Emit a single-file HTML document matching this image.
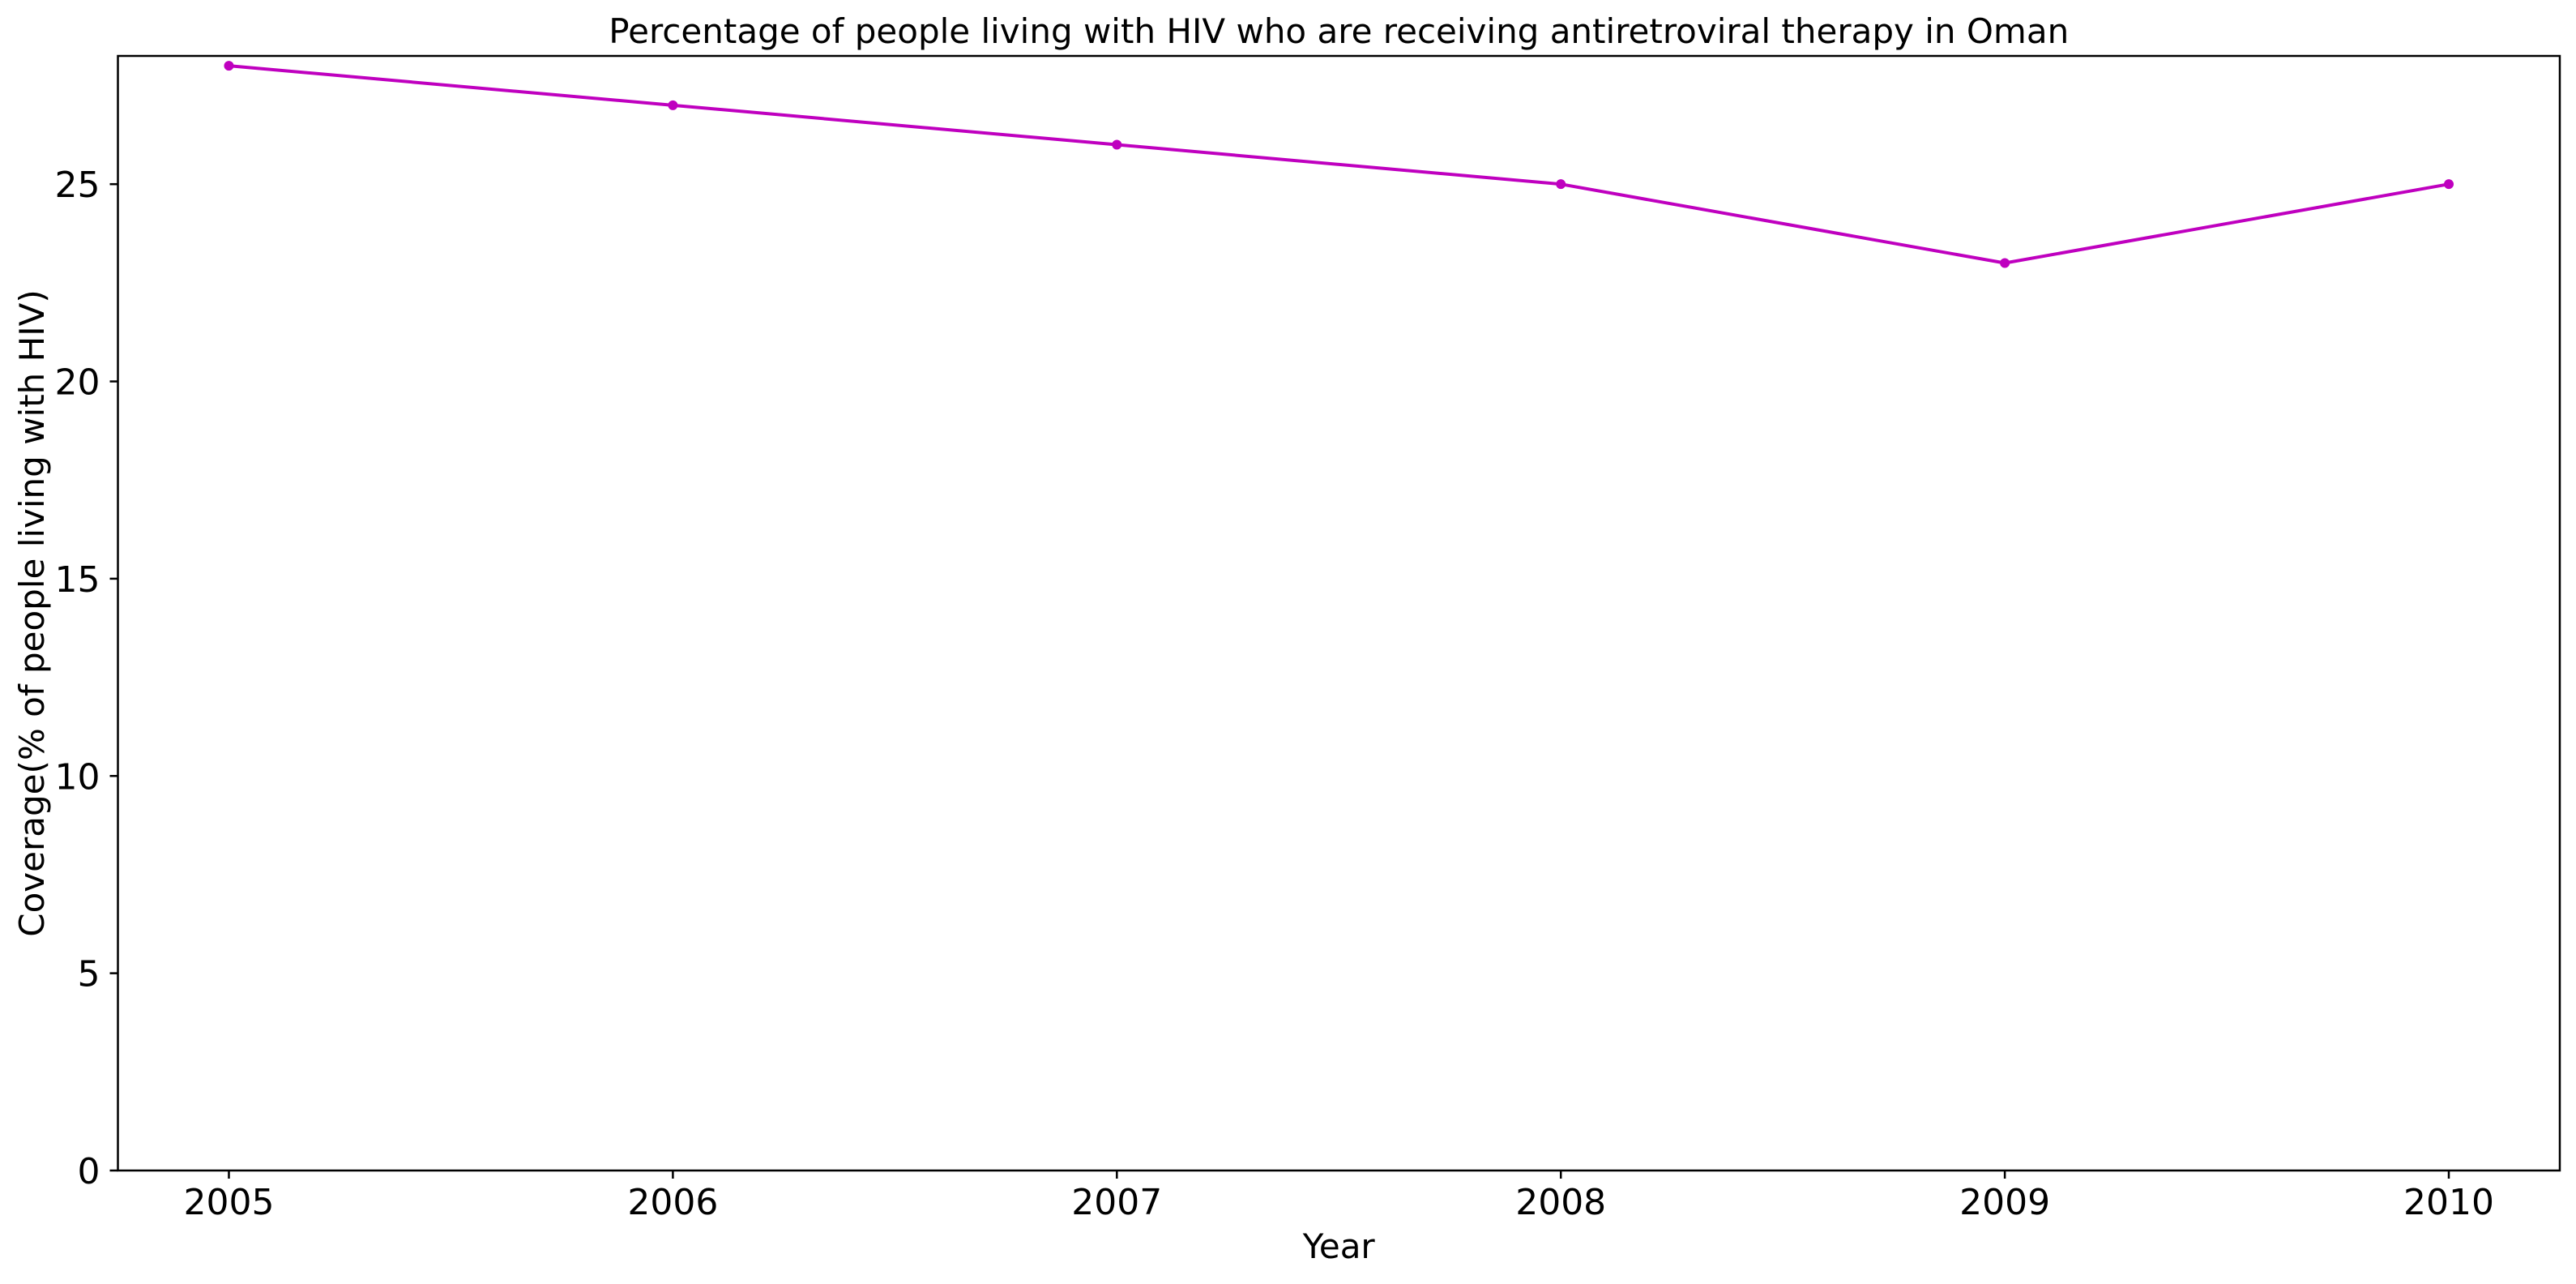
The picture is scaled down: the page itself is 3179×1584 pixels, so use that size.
<!DOCTYPE html>
<html><head><meta charset="utf-8"><style>body{margin:0;background:#fff}svg text{font-family:"DejaVu Sans","Liberation Sans",sans-serif;fill:#000}</style></head>
<body>
<svg id="chart" width="3179" height="1579" xmlns="http://www.w3.org/2000/svg">
<rect width="3179" height="1579" fill="#fff"/>
<g id="plot"></g>
</svg>
<script>
const years = [2005, 2006, 2007, 2008, 2009, 2010];
const coverage = [28, 27, 26, 25, 23, 25];
const yTicks = [0, 5, 10, 15, 20, 25];
const xTicks = [2005, 2006, 2007, 2008, 2009, 2010];

const L=145.5, R=3159, T=69, B=1444;
const xMin=2004.75, xMax=2010.25, yMin=0, yMax=28.25;
const xs=v=>L+(v-xMin)/(xMax-xMin)*(R-L);
const ys=v=>B-(v-yMin)/(yMax-yMin)*(B-T);
const NS='http://www.w3.org/2000/svg';
const g=document.getElementById('plot');
function mk(tag,attrs,text){const e=document.createElementNS(NS,tag);for(const k in attrs)e.setAttribute(k,attrs[k]);if(text!==undefined)e.textContent=text;g.appendChild(e);return e;}

const pts=years.map((y,i)=>xs(y)+','+ys(coverage[i])).join(' ');
const line=mk('polyline',{points:pts,fill:'none',stroke:'#bf00bf','stroke-width':4,'stroke-linejoin':'round'});


years.forEach((y,i)=>{
  const c=mk('circle',{cx:xs(y),cy:ys(coverage[i]),r:6,fill:'#bf00bf'});
  
  
});

const fr=mk('rect',{x:L,y:T,width:R-L,height:B-T,fill:'none',stroke:'#000','stroke-width':2.5});



yTicks.forEach(v=>{
  const y=ys(v);
  const t=mk('line',{x1:L-10,x2:L,y1:y,y2:y,stroke:'#000','stroke-width':2.5});
  
  
  const lb=mk('text',{x:L-22,y:y+16,'text-anchor':'end','font-size':44},String(v));
  
  
});
xTicks.forEach(v=>{
  const x=xs(v);
  const t=mk('line',{x1:x,x2:x,y1:B,y2:B+10,stroke:'#000','stroke-width':2.5});
  
  
  const lb=mk('text',{x:x,y:B+54,'text-anchor':'middle','font-size':44},String(v));
  
  
});

const title=mk('text',{x:(L+R)/2,y:53,'text-anchor':'middle','font-size':42},'Percentage of people living with HIV who are receiving antiretroviral therapy in Oman');


const xl=mk('text',{x:(L+R)/2,y:1552,'text-anchor':'middle','font-size':42},'Year');


const yl=mk('text',{x:0,y:0,'text-anchor':'middle','font-size':42,transform:'translate(54,'+((T+B)/2)+') rotate(-90)'},'Coverage(% of people living with HIV)');


</script>
</body></html>
